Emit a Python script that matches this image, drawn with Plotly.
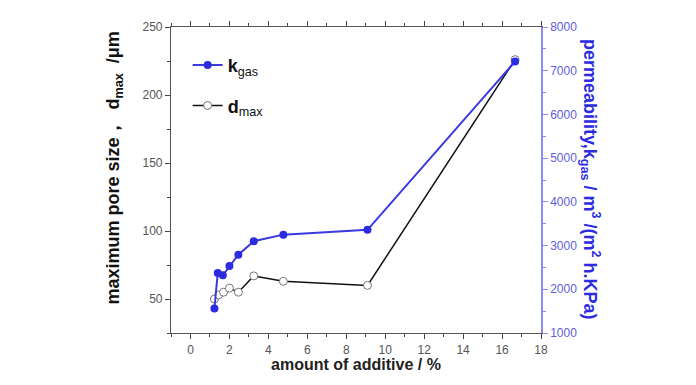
import plotly.graph_objects as go

# data
x_kgas = [1.23, 1.40, 1.66, 2.00, 2.46, 3.25, 4.77, 9.09, 16.67]
kgas = [1560, 2370, 2320, 2530, 2790, 3100, 3250, 3360, 7210]
x_dmax = [1.23, 1.45, 1.70, 2.00, 2.46, 3.25, 4.77, 9.09, 16.67]
dmax = [50, 53, 55, 58, 55, 67, 63, 60, 226]

x_ticks = list(range(0, 19, 2))
left_ticks = [50, 100, 150, 200, 250]
right_ticks = [1000, 2000, 3000, 4000, 5000, 6000, 7000, 8000]

BLUE = "#2b2be0"
LBLUE = "#8c8cf0"
FONT = "Liberation Sans, Arial, sans-serif"

fig = go.Figure()
fig.add_trace(go.Scatter(
    x=x_kgas, y=kgas, yaxis="y2", name="<b>k</b><sub>gas</sub>", mode="lines+markers",
    line=dict(color="#3a3ae0", width=2),
    marker=dict(color=BLUE, size=8, symbol="circle"),
    legendgroup="a",
))
fig.add_trace(go.Scatter(
    x=x_dmax, y=dmax, name="<b>d</b><sub>max</sub>", mode="lines+markers",
    line=dict(color="#111111", width=1.5),
    marker=dict(color="white", size=8, symbol="circle", line=dict(color="#777777", width=1)),
    legendgroup="b",
))

fig.update_layout(
    width=696, height=385,
    margin=dict(l=163, r=163, t=12, b=60),
    paper_bgcolor="white", plot_bgcolor="white",
    font=dict(family=FONT, color="#222"),
    showlegend=True,
    legend=dict(x=0.045, y=0.935, xanchor="left", yanchor="top",
                bgcolor="rgba(0,0,0,0)", font=dict(size=18, family=FONT, color="#111"),
                tracegroupgap=14, itemwidth=30),
    xaxis=dict(range=[-1, 18], tickvals=x_ticks, ticks="outside", ticklen=5,
               minor=dict(dtick=1, ticks="outside", ticklen=3, tick0=0),
               showline=True, linecolor="#555", linewidth=1.2, mirror="ticks",
               showgrid=False, zeroline=False,
               tickfont=dict(size=12, color="#555", family=FONT),
               title=dict(text="<b>amount of additive / %</b>", font=dict(size=16, color="#222", family=FONT), standoff=2)),
    yaxis=dict(range=[25, 250], tickvals=left_ticks, ticks="outside", ticklen=5,
               minor=dict(dtick=25, ticks="outside", ticklen=3, tick0=0),
               showline=True, linecolor="#555", linewidth=1.2,
               showgrid=False, zeroline=False,
               tickfont=dict(size=12, color="#555", family=FONT)),
    yaxis2=dict(range=[1000, 8000], tickvals=right_ticks, overlaying="y", side="right",
                ticks="outside", ticklen=5, tickcolor=LBLUE,
                minor=dict(dtick=500, ticks="outside", ticklen=3, tickcolor=LBLUE, tick0=0),
                showline=True, linecolor=LBLUE, linewidth=1.5,
                showgrid=False, zeroline=False,
                tickfont=dict(size=12, color="#6060d8", family=FONT)),
)

fig.add_annotation(
    text="<b>maximum pore size，  d<sub>max</sub>  /μm</b>",
    xref="paper", yref="paper", x=-0.152, y=0.54, xanchor="center", yanchor="middle",
    textangle=-90, showarrow=False, font=dict(size=18, color="#111", family=FONT),
)
fig.add_annotation(
    text="<b>permeability,k<sub>gas</sub> / m<sup>3</sup> /(m<sup>2</sup> h.KPa)</b>",
    xref="paper", yref="paper", x=1.135, y=0.5, xanchor="center", yanchor="middle",
    textangle=90, showarrow=False, font=dict(size=18, color=BLUE, family=FONT),
)

fig.write_html("out.html")
